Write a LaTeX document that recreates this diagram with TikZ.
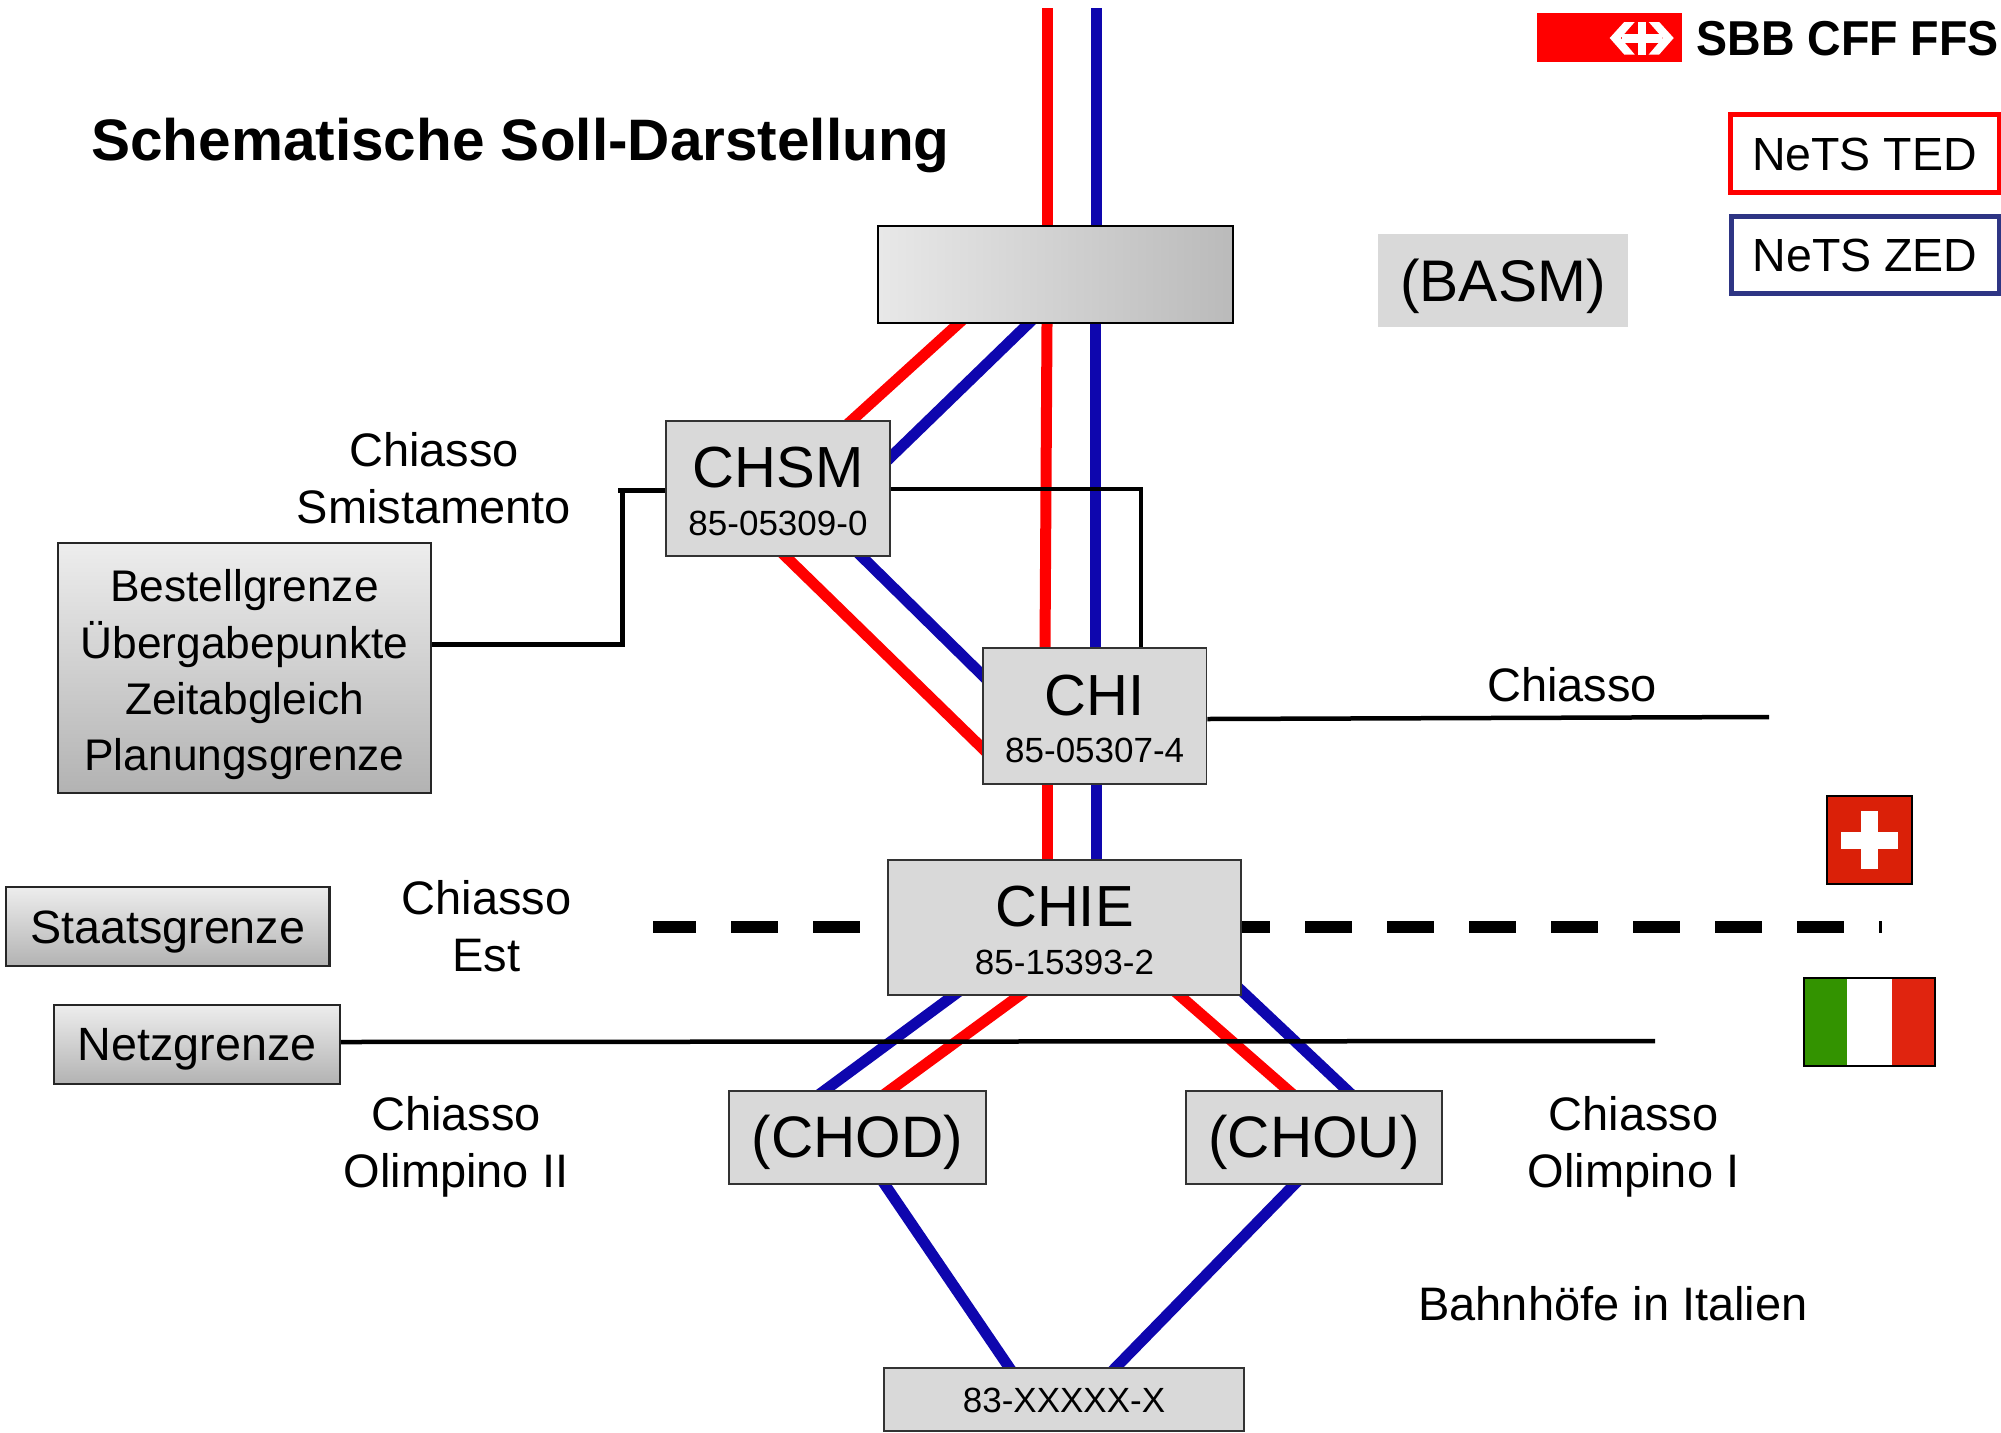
\documentclass[tikz,border=0pt]{standalone}
\usepackage{fontspec}
\setmainfont{Liberation Sans}
\usetikzlibrary{calc}
\pgfdeclarelayer{bg}
\pgfsetlayers{bg,main}
\definecolor{lnblue}{HTML}{0E06AE}
\definecolor{lnred}{HTML}{FF0000}
\definecolor{frameblue}{HTML}{2E3584}
\definecolor{stn}{HTML}{D9D9D9}
\definecolor{chred}{HTML}{DA2008}
\definecolor{itgreen}{HTML}{339300}
\definecolor{itred}{HTML}{E0240F}
\newcommand{\fs}[2]{\fontsize{#1}{#2}\selectfont}
\newcommand{\stnlabel}[2]{\fs{58}{58}#1\\[21.5pt]\fs{35}{35}#2}
\newcommand{\dn}[2]{\raisebox{-#1}[\height][\depth]{#2}}
\tikzset{
  x=1pt,y=-1pt,
  box/.style={draw=black,line width=1.6pt,inner sep=0pt,align=center,anchor=center,text=black},
  station/.style={box,fill=stn,draw=black!80},
  tall/.style={text height=94pt},
  big/.style={font=\fs{58.5}{58}},
  gradbox/.style={box,line width=2.4pt,draw=black!85,top color=black!7,bottom color=black!30,shading=axis},
  lbl/.style={inner sep=0pt,align=center,font=\fs{47}{57}},
  red line/.style={draw=lnred,line width=11pt},
  blue line/.style={draw=lnblue,line width=11pt},
  ext/.style={shorten <=-9pt,shorten >=-9pt},
  black line/.style={draw=black,line width=4.5pt},
  legend/.style={fill=white,inner sep=0pt,line width=5pt,font=\fs{46.5}{46}},
}
\begin{document}
\begin{tikzpicture}
\useasboundingbox (0,0) rectangle (2001,1432);
% stations
\node[box,line width=2pt,left color=black!9,right color=black!27,shading=axis,minimum width=355pt,minimum height=97pt] (top) at (1055.5,274.5) {};
\node[fill=stn,inner sep=0pt,minimum width=250pt,minimum height=93pt,font=\fs{58.7}{58}] (basm) at (1503,280.5) {\dn{6pt}{(BASM)}};
\node[station,tall,minimum width=224pt,minimum height=135pt] (chsm) at (778,488.5) {\stnlabel{CHSM}{85-05309-0}};
\node[station,tall,minimum width=223.5pt,minimum height=136pt] (chi) at (1094.7,716) {\stnlabel{CHI}{85-05307-4}};
\node[station,tall,minimum width=353pt,minimum height=135pt] (chie) at (1064.5,927.5) {\stnlabel{CHIE}{85-15393-2}};
\node[station,big,minimum width=257pt,minimum height=93pt] (chod) at (857.5,1137.5) {\dn{5pt}{(CHOD)}};
\node[station,big,minimum width=256pt,minimum height=93pt] (chou) at (1314,1137.5) {\dn{5pt}{(CHOU)}};
\node[station,font=\fs{35}{35},minimum width=360pt,minimum height=63pt] (it) at (1064,1399.5) {\dn{1pt}{83-XXXXX-X}};
% grey label boxes
\node[gradbox,minimum width=373pt,minimum height=250pt,font=\fs{44.3}{56.2},text height=214pt] (bg) at (244.5,668) {Bestellgrenze\\Übergabepunkte\\Zeitabgleich\\Planungsgrenze};
\node[gradbox,minimum width=323.5pt,minimum height=79pt,font=\fs{46.7}{46.5}] (staat) at (167.7,926.5) {\dn{6pt}{Staatsgrenze}};
\node[gradbox,minimum width=286pt,minimum height=79pt,font=\fs{46.7}{46.5}] (netz) at (197,1044.5) {\dn{5pt}{Netzgrenze}};
% legend
\node[legend,draw=lnred,minimum width=269pt,minimum height=78pt] (ted) at (1864.5,153.5) {\dn{1pt}{NeTS TED}};
\node[legend,draw=frameblue,minimum width=268pt,minimum height=77pt] (zed) at (1865,254.5) {\dn{1pt}{NeTS ZED}};
% labels
\node[lbl,font=\fs{58.5}{58}\bfseries] (title) at (520.5,146) {Schematische Soll-Darstellung};
\node[lbl] (l1) at (434,478) {Chiasso\\Smistamento};
\node[lbl] (l2) at (1572,685) {Chiasso};
\node[lbl] (l3) at (486.5,926.5) {Chiasso\\Est};
\node[lbl] (l4) at (456,1147) {Chiasso\\Olimpino II};
\node[lbl] (l5) at (1633.5,1147) {Chiasso\\Olimpino I};
\node[lbl,font=\fs{47}{47}] (l6) at (1613,1304) {Bahnhöfe in Italien};
% free ends
\coordinate (topr) at (1047,8);
\coordinate (topb) at (1096,8);
\coordinate (chiend) at (1769,717);
\coordinate (netzend) at (1655,1041);
\coordinate (dashstart) at (653,927);
\coordinate (dashend) at (1882,927);
\coordinate (stub) at (617.5,490);
\coordinate (bendA) at (622,488);
\coordinate (bendB) at (622,644);
\coordinate (bendC) at (1141,489);
\begin{pgfonlayer}{bg}
\draw[red line] (topr) -- (top.north -| topr);
\draw[blue line] (topb) -- (top.north -| topb);
\draw[red line] (top.south -| 1047,0) -- (chi.north -| 1045,0);
\draw[blue line] (top.south -| 1095,0) -- (chi.north -| 1095,0);
\draw[red line] (chi.south -| 1047,0) -- (chie.north -| 1047,0);
\draw[blue line] (chi.south -| 1096,0) -- (chie.north -| 1096,0);
\draw[red line,ext] (top.south -| 958,0) -- (chsm.north -| 852,0);
\draw[blue line,ext] (top.south -| 1028,0) -- (chsm.east |- 0,457);
\draw[red line,ext] (chsm.south -| 786,0) -- (chi.west |- 0,748);
\draw[blue line,ext] (chsm.south -| 862,0) -- (chi.west |- 0,675);
\draw[blue line,ext] (chie.south -| 953,0) -- (chod.north -| 825,0);
\draw[red line,ext] (chie.south -| 1019,0) -- (chod.north -| 890,0);
\draw[red line,ext] (chie.south -| 1180,0) -- (chou.north -| 1288,0);
\draw[blue line,ext] (chie.east |- 0,991) -- (chou.north -| 1347,0);
\draw[blue line,ext] (chod.south -| 885,0) -- (it.north -| 1009,0);
\draw[blue line,ext] (chou.south -| 1294,0) -- (it.north -| 1116,0);
\draw[draw=black,line width=12pt,dash pattern=on 47pt off 35pt,dash phase=4pt] (dashstart) -- (dashend);
\draw[black line,line width=5pt] (chsm.west |- stub) -- (stub);
\draw[black line,line width=5pt] (bendA) -- (bendB) -- (bg.east |- bendB);
\draw[black line] (chsm.east |- bendC) -- (bendC) -- (chi.north -| bendC);
\draw[black line] (chi.east |- 0,719) -- (chiend);
\draw[black line] (netz.east |- 0,1042) -- (netzend);
\end{pgfonlayer}
% logo
\fill[lnred] (1537,13) rectangle (1682,62);
\begin{scope}[shift={(1641.7,38)}]
\fill[white] (-32,0) -- (-17.5,-16) -- (-7,-16) -- (-21,0) -- (-7,16.5) -- (-17.5,16.5) -- cycle;
\fill[white] (32,0) -- (17.5,-16) -- (7,-16) -- (21,0) -- (7,16.5) -- (17.5,16.5) -- cycle;
\fill[white] (-4,-16) rectangle (4,16.5);
\fill[white] (-20,-4.5) rectangle (20,4.5);
\end{scope}
\node[lbl,font=\fs{49}{49}\bfseries] (sbb) at (1847.6,38.5) {\scalebox{0.95}[1]{SBB CFF FFS}};
% flags
\draw[fill=chred,draw=black,line width=2.4pt] (1827,796) rectangle (1912,884);
\fill[white] (1841,832) rectangle (1898,849);
\fill[white] (1861,811) rectangle (1878,869);
\fill[itgreen] (1803,977) rectangle (1847,1067);
\fill[itred] (1892,977) rectangle (1936,1067);
\draw[draw=black,line width=2.4pt] (1804,978) rectangle (1935,1066);
\end{tikzpicture}
\end{document}
